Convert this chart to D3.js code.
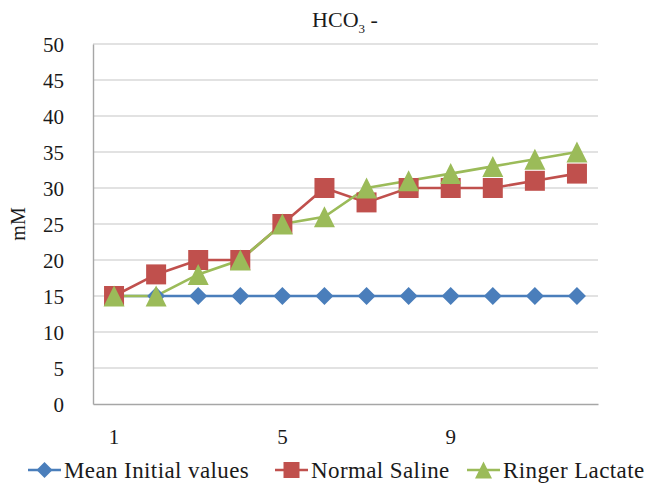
<!DOCTYPE html>
<html>
<head>
<meta charset="utf-8">
<script src="https://cdn.jsdelivr.net/npm/d3@7"></script>
<style>
  body { margin: 0; background: #fff; }
</style>
</head>
<body>
<div id="chart"></div>
<script>
// Chart data
const categories = [1, 2, 3, 4, 5, 6, 7, 8, 9, 10, 11, 12];
const tickLabels = [1, 5, 9];
const meanInitial = [15, 15, 15, 15, 15, 15, 15, 15, 15, 15, 15, 15];
const normalSaline = [15, 18, 20, 20, 25, 30, 28, 30, 30, 30, 31, 32];
const ringerLactate = [15, 15, 18, 20, 25, 26, 30, 31, 32, 33, 34, 35];
const yTicks = [0, 5, 10, 15, 20, 25, 30, 35, 40, 45, 50];

// excel-like marker shapes, "size" here is the box width in px
const diamond = {
    draw(ctx, s) {
        const r = s / 2;
        ctx.moveTo(0, -r); ctx.lineTo(r, 0); ctx.lineTo(0, r); ctx.lineTo(-r, 0); ctx.closePath();
    }
};
const square = {
    draw(ctx, s) {
        const r = s / 2;
        ctx.rect(-r, -r, s, s);
    }
};
const triangle = {
    draw(ctx, s) {
        const r = s / 2;
        ctx.moveTo(0, -r); ctx.lineTo(r, r); ctx.lineTo(-r, r); ctx.closePath();
    }
};

const series = [
    { name: "Mean Initial values", values: meanInitial, color: "#4a7ebb", symbol: diamond, size: 18, lw: 16 },
    { name: "Normal Saline", values: normalSaline, color: "#c0504d", symbol: square, size: 20, lw: 16 },
    { name: "Ringer Lactate", values: ringerLactate, color: "#9bbb59", symbol: triangle, size: 21, lw: 17 }
];

const width = 645, height = 484;
const margin = { top: 44, right: 47, bottom: 80, left: 93 };
const font = "Liberation Serif, Times New Roman, serif";
const ink = "#1a1a1a";

const svg = d3.select("#chart").append("svg")
    .attr("width", width)
    .attr("height", height)
    .style("font-family", font);

const x = d3.scaleBand()
    .domain(categories)
    .range([margin.left, width - margin.right]);

const y = d3.scaleLinear()
    .domain([0, 50])
    .range([height - margin.bottom, margin.top]);

// gridlines
svg.append("g")
    .selectAll("line")
    .data(yTicks.filter(d => d > 0))
    .enter()
    .append("line")
    .attr("x1", margin.left)
    .attr("x2", width - margin.right)
    .attr("y1", d => y(d))
    .attr("y2", d => y(d))
    .attr("stroke", "#d9d9d9")
    .attr("stroke-width", 1.4);

// y axis
const yAxis = svg.append("g")
    .attr("transform", `translate(${margin.left},0)`)
    .call(d3.axisLeft(y).tickValues(yTicks).tickSize(0))
    .attr("font-family", font);
yAxis.select(".domain").attr("stroke", "#a6a6a6").attr("stroke-width", 1.4);
yAxis.selectAll(".tick text")
    .attr("x", -29)
    .attr("dy", "0.35em")
    .attr("fill", ink)
    .style("font-size", "21px")
    .style("font-family", font);

// x axis
const xAxis = svg.append("g")
    .attr("transform", `translate(0,${y(0)})`)
    .call(d3.axisBottom(x).tickValues(tickLabels).tickSize(0))
    .attr("font-family", font);
xAxis.select(".domain").attr("stroke", "#a6a6a6").attr("stroke-width", 1.4);
xAxis.selectAll(".tick text")
    .attr("y", 40)
    .attr("dy", null)
    .attr("fill", ink)
    .style("font-size", "21px")
    .style("font-family", font);

// y axis title
svg.append("text")
    .attr("transform", `translate(25,${(margin.top + y(0)) / 2}) rotate(-90)`)
    .attr("text-anchor", "middle")
    .attr("fill", ink)
    .style("font-size", "20px")
    .text("mM");

// chart title with subscript
const title = svg.append("text")
    .attr("x", 345)
    .attr("y", 27)
    .attr("text-anchor", "middle")
    .attr("fill", ink)
    .style("font-size", "22px");
title.append("tspan").text("HCO");
title.append("tspan").attr("dy", 6).style("font-size", "13px").text("3");
title.append("tspan").attr("dy", -6).text(" -");

const line = d3.line()
    .x((d, i) => x(categories[i]) + x.bandwidth() / 2)
    .y(d => y(d));

// lines then markers
series.forEach(s => {
    svg.append("path")
        .datum(s.values)
        .attr("fill", "none")
        .attr("stroke", s.color)
        .attr("stroke-width", 2.6)
        .attr("d", line);
});

series.forEach(s => {
    svg.append("g")
        .selectAll("path")
        .data(s.values)
        .enter()
        .append("path")
        .attr("transform", (d, i) => `translate(${x(categories[i]) + x.bandwidth() / 2},${y(d)})`)
        .attr("d", d3.symbol().type(s.symbol).size(s.size))
        .attr("fill", s.color);
});

// legend
const legendX = [28, 275, 467];
const legend = svg.append("g").attr("transform", `translate(0,470)`);
series.forEach((s, i) => {
    const g = legend.append("g").attr("transform", `translate(${legendX[i]},0)`);
    g.append("line")
        .attr("x1", 0).attr("x2", 33)
        .attr("stroke", s.color)
        .attr("stroke-width", 2.6);
    g.append("path")
        .attr("transform", "translate(16.5,0)")
        .attr("d", d3.symbol().type(s.symbol).size(s.lw))
        .attr("fill", s.color);
    g.append("text")
        .attr("x", 36)
        .attr("y", 8)
        .attr("fill", ink)
        .style("font-size", "23px")
        .style("letter-spacing", "0.4px")
        .text(s.name);
});
</script>
</body>
</html>
